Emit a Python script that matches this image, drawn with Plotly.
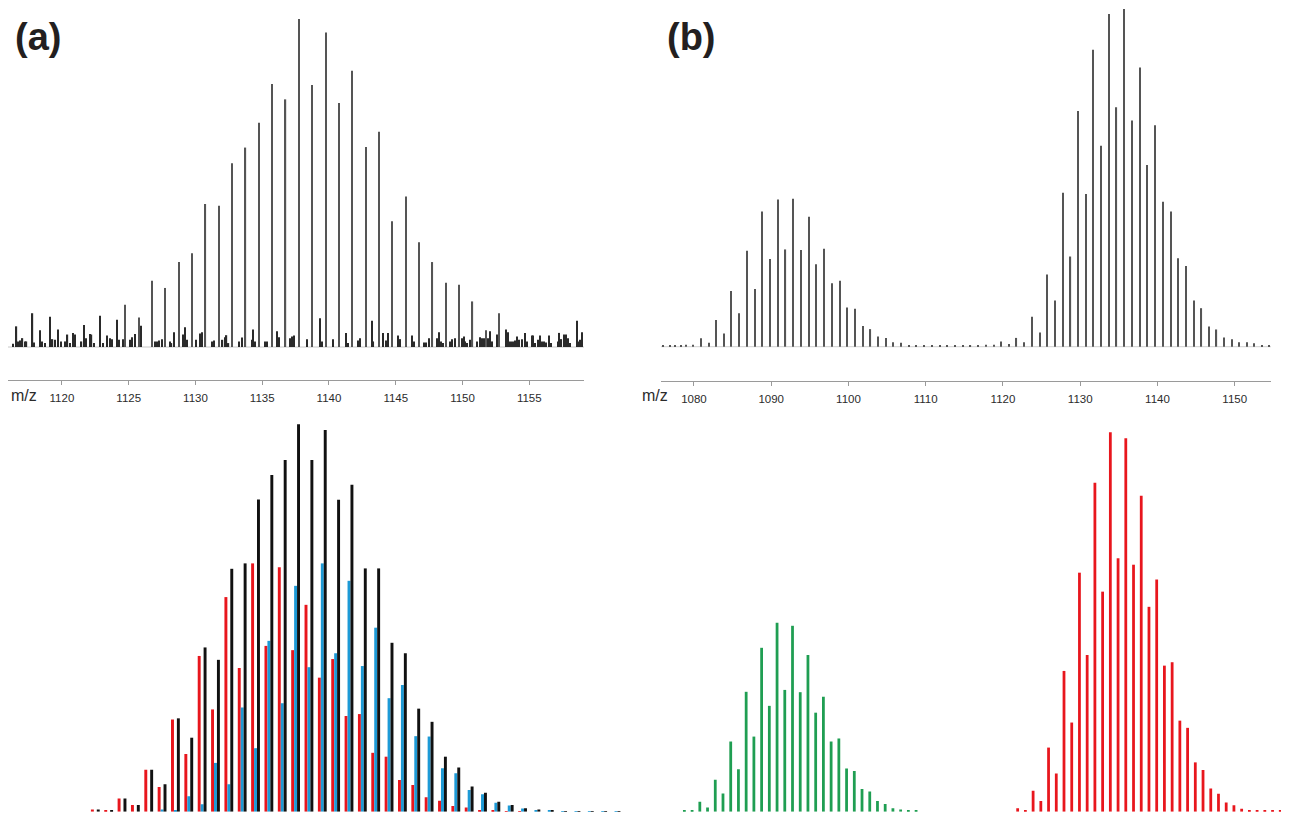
import plotly.graph_objects as go

# The page body adds an 8 px margin, so the figure is drawn 8 px smaller and
# reference pixel positions are shifted by that amount.
OFF = 8
W, H = 1289 - OFF, 815 - OFF

# ---------------- Panel (a), top: measured spectrum ----------------
a_peak_mz = [1124.75, 1125.75, 1126.75, 1127.75, 1128.75, 1129.75, 1130.75, 1131.75,
             1132.75, 1133.75, 1134.75, 1135.75, 1136.75, 1137.75, 1138.75, 1139.75,
             1140.75, 1141.75, 1142.75, 1143.75, 1144.75, 1145.75, 1146.75, 1147.75,
             1148.75, 1149.75, 1150.75, 1151.75, 1152.75]
a_peak_int = [12.9, 9.0, 20.2, 18.0, 25.9, 28.6, 43.6, 43.1,
              56.0, 60.8, 68.4, 80.2, 75.5, 100.0, 79.9, 95.9,
              74.4, 84.2, 61.0, 65.6, 38.3, 45.9, 31.9, 25.9,
              19.6, 19.0, 13.9, 5.1, 10.3]

a_noise_mz = [1115.90, 1116.35, 1116.60, 1116.73, 1116.90, 1117.05, 1117.23, 1117.35, 1117.80,
              1117.93, 1118.35, 1118.48, 1118.73, 1119.10, 1119.30, 1119.48, 1119.73, 1119.90,
              1120.27, 1120.42, 1120.60, 1120.80, 1120.97, 1121.47, 1121.65, 1121.80, 1122.10,
              1122.22, 1122.40, 1122.85, 1123.05, 1123.40, 1123.60, 1123.77, 1124.14, 1124.29,
              1124.59, 1125.09, 1125.27, 1125.47, 1125.94, 1126.99, 1127.14, 1127.29, 1127.47,
              1128.09, 1128.21, 1128.39, 1129.04, 1129.21, 1129.34, 1130.04, 1130.34, 1130.46,
              1131.21, 1131.39, 1132.03, 1132.21, 1132.33, 1132.48, 1133.28, 1133.46, 1134.21,
              1134.33, 1134.46, 1135.21, 1135.34, 1136.13, 1136.28, 1137.08, 1137.23, 1137.38,
              1138.33, 1139.33, 1139.45, 1140.28, 1141.25, 1141.40, 1142.20, 1142.33, 1143.20,
              1143.33, 1144.07, 1144.25, 1144.45, 1145.20, 1145.35, 1146.20, 1146.35, 1147.12,
              1147.27, 1147.49, 1148.07, 1148.27, 1148.39, 1148.52, 1149.07, 1149.24, 1149.42,
              1149.94, 1150.09, 1150.22, 1150.34, 1150.57, 1151.06, 1151.29, 1151.49, 1151.59,
              1151.94, 1152.09, 1152.24, 1152.56, 1153.24, 1153.39, 1153.51, 1153.64, 1153.76,
              1153.91, 1154.06, 1154.24, 1154.44, 1154.69, 1154.81, 1155.18, 1155.31, 1155.43,
              1155.68, 1155.81, 1155.96, 1156.11, 1156.26, 1156.46, 1156.61, 1157.13, 1157.26,
              1157.41, 1157.63, 1157.76, 1157.91, 1158.06, 1158.56, 1158.68, 1158.83, 1158.98]
a_noise_int = [6.8, 1.0, 6.3, 1.7, 2.0, 2.7, 1.7, 1.7, 10.3,
               1.4, 5.1, 1.7, 1.2, 9.2, 2.4, 2.2, 5.3, 1.7,
               1.7, 3.8, 1.2, 4.3, 3.8, 1.7, 6.7, 2.7, 4.0,
               3.8, 1.2, 9.5, 1.2, 3.5, 2.7, 2.4, 8.3, 2.2,
               2.4, 2.2, 3.0, 4.0, 6.5, 1.7, 1.7, 2.0, 2.4,
               1.7, 1.2, 4.5, 3.8, 6.0, 2.2, 2.2, 4.1, 4.5,
               1.7, 2.0, 2.2, 3.0, 3.6, 1.2, 1.7, 2.9, 2.2,
               5.3, 1.7, 1.7, 1.7, 4.8, 3.0, 2.7, 3.2, 3.5,
               2.4, 8.8, 1.7, 2.4, 4.3, 1.2, 2.0, 2.7, 8.0,
               1.7, 4.3, 2.0, 4.3, 3.5, 2.4, 3.5, 1.7, 1.4,
               1.4, 2.7, 2.7, 4.5, 1.7, 1.2, 1.7, 2.4, 2.7,
               2.7, 3.2, 1.7, 1.2, 2.2, 1.7, 3.0, 2.7, 2.7,
               2.7, 4.8, 1.7, 3.8, 5.3, 4.5, 1.7, 1.7, 1.7,
               2.0, 3.2, 2.2, 2.4, 4.3, 1.7, 3.5, 3.5, 1.2,
               2.2, 3.5, 1.7, 1.7, 1.4, 3.5, 1.2, 1.7, 4.3,
               2.4, 3.8, 3.8, 2.7, 1.2, 8.0, 1.7, 2.2, 4.5]

a_ticks = [1120, 1125, 1130, 1135, 1140, 1145, 1150, 1155]

# ---------------- Panel (a), bottom: fitted contributions ----------------
a_fit_mz = [1122.72, 1123.72, 1124.72, 1125.72, 1126.72, 1127.72, 1128.72, 1129.72,
            1130.72, 1131.72, 1132.72, 1133.72, 1134.72, 1135.72, 1136.72, 1137.72,
            1138.72, 1139.72, 1140.72, 1141.72, 1142.72, 1143.72, 1144.72, 1145.72,
            1146.72, 1147.72, 1148.72, 1149.72, 1150.72, 1151.72, 1152.72, 1153.72,
            1154.72, 1155.72, 1156.72, 1157.72, 1158.72, 1159.72, 1160.72, 1161.72]
a_fit_red = [0.6, 0.2, 3.4, 1.7, 10.8, 6.4, 23.8, 14.9,
             40.2, 26.4, 55.4, 37.1, 64.1, 42.8, 63.1, 41.7,
             53.4, 34.6, 39.4, 24.7, 25.2, 15.2, 14.2, 8.2,
             6.9, 3.7, 2.8, 1.5, 1.1, 0.4, 0.2, 0.1,
             0.05, 0.0, 0.0, 0.0, 0.0, 0.0, 0.0, 0.0]
a_fit_blue = [0.0, 0.0, 0.0, 0.0, 0.0, 0.6, 0.2, 4.0,
              1.9, 12.6, 7.1, 26.9, 16.4, 44.1, 28.0, 58.3,
              37.3, 64.1, 40.9, 59.6, 37.6, 47.5, 29.3, 32.7,
              19.5, 19.4, 11.2, 9.9, 5.6, 4.5, 2.3, 1.6,
              0.8, 0.4, 0.2, 0.15, 0.15, 0.15, 0.15, 0.15]
a_fit_black = [0.6, 0.2, 3.4, 1.7, 10.8, 7.1, 24.1, 19.1,
               42.4, 39.2, 62.7, 64.1, 80.6, 86.9, 90.8, 100.0,
               90.8, 98.5, 80.5, 84.4, 62.8, 62.8, 43.6, 40.9,
               26.6, 23.2, 14.2, 11.4, 6.5, 4.9, 2.6, 1.7,
               0.9, 0.6, 0.3, 0.15, 0.15, 0.15, 0.15, 0.15]

# ---------------- Panel (b), top: measured spectrum ----------------
b_mz = [1076.0, 1076.9, 1077.5, 1078.3, 1079.0, 1079.9,
        1080.9, 1081.9, 1082.9, 1083.85, 1084.85, 1085.85, 1086.85, 1087.85, 1088.85, 1089.85,
        1090.85, 1091.85, 1092.85, 1093.85, 1094.85, 1095.85, 1096.85, 1097.85, 1098.85, 1099.85,
        1100.85, 1101.85, 1102.85, 1103.85, 1104.85, 1105.8, 1106.8, 1107.8, 1108.8, 1109.8,
        1110.8, 1111.8, 1112.8, 1113.8, 1114.8, 1115.8, 1116.8, 1117.8, 1118.8, 1119.75,
        1120.75, 1121.75, 1122.75, 1123.75, 1124.75, 1125.75, 1126.75, 1127.75, 1128.75, 1129.75,
        1130.7, 1131.7, 1132.7, 1133.7, 1134.7, 1135.7, 1136.7, 1137.7, 1138.7, 1139.7,
        1140.7, 1141.7, 1142.7, 1143.7, 1144.7, 1145.7, 1146.65, 1147.65, 1148.6, 1149.6,
        1150.6, 1151.6, 1152.5, 1153.5, 1154.5]
b_int = [0.4, 0.4, 0.4, 0.5, 0.6, 0.6,
         2.5, 1.2, 7.9, 3.9, 16.5, 9.9, 28.4, 17.1, 40.0, 26.0,
         43.6, 28.8, 43.8, 28.6, 38.5, 24.4, 29.0, 18.8, 19.5, 11.6,
         11.2, 6.1, 5.2, 3.0, 2.6, 1.3, 1.2, 0.5, 0.5, 0.5,
         0.5, 0.5, 0.5, 0.5, 0.5, 0.5, 0.5, 0.6, 0.6, 1.5,
         0.8, 2.6, 1.3, 8.9, 4.2, 21.4, 13.7, 45.6, 26.7, 69.8,
         45.2, 87.9, 59.5, 98.5, 70.9, 100.0, 67.0, 82.7, 53.8, 65.6,
         42.9, 40.0, 26.2, 23.9, 13.7, 11.4, 6.0, 5.1, 2.7, 2.2,
         1.3, 1.3, 1.0, 0.5, 0.5]

b_ticks = [1080, 1090, 1100, 1110, 1120, 1130, 1140, 1150]

# ---------------- Panel (b), bottom: simulated envelopes ----------------
b_green_mz = [1078.75, 1079.75, 1080.75, 1081.75, 1082.75, 1083.75, 1084.75, 1085.75,
              1086.75, 1087.75, 1088.75, 1089.75, 1090.75, 1091.75, 1092.75, 1093.75,
              1094.75, 1095.75, 1096.75, 1097.75, 1098.75, 1099.75, 1100.75, 1101.75,
              1102.75, 1103.75, 1104.75, 1105.75, 1106.75, 1107.75, 1108.75]
b_green_int = [0.2, 0.2, 2.6, 1.1, 8.4, 4.8, 18.5, 11.2,
               31.6, 19.8, 43.2, 27.9, 49.8, 32.1, 49.0, 31.5,
               41.3, 26.1, 30.3, 18.5, 19.3, 11.4, 10.7, 6.0,
               5.3, 2.8, 2.0, 0.9, 0.6, 0.3, 0.3]
b_red_mz = [1121.9, 1122.9, 1123.9, 1124.9, 1125.9, 1126.9, 1127.9, 1128.9,
            1129.9, 1130.9, 1131.9, 1132.9, 1133.9, 1134.9, 1135.9, 1136.9,
            1137.9, 1138.9, 1139.9, 1140.9, 1141.9, 1142.9, 1143.9, 1144.9,
            1145.9, 1146.9, 1147.9, 1148.9, 1149.9, 1150.9, 1151.9, 1152.9,
            1153.9, 1154.9, 1155.9, 1156.9]
b_red_int = [0.9, 0.3, 5.5, 2.8, 16.9, 10.1, 37.1, 23.5,
             63.0, 41.3, 86.7, 58.0, 100.0, 66.8, 98.4, 65.1,
             83.3, 54.0, 61.2, 38.5, 39.4, 24.0, 22.1, 13.0,
             11.0, 6.1, 4.7, 2.4, 1.7, 0.8, 0.4, 0.2,
             0.2, 0.2, 0.2, 0.2]

# ---------------- Figure ----------------
def py(px):
    return 1 - (px - OFF) / H

def pxx(px):
    return (px - OFF) / W

fig = go.Figure()

# top (a)
fig.add_trace(go.Bar(x=a_noise_mz, y=a_noise_int, width=0.09, marker=dict(color="#2a2a2a", line_width=0),
                     xaxis="x", yaxis="y", showlegend=False))
fig.add_trace(go.Bar(x=a_peak_mz, y=a_peak_int, width=0.09, marker=dict(color="#555555", line_width=0),
                     xaxis="x", yaxis="y", showlegend=False))
# top (b)
fig.add_trace(go.Bar(x=b_mz, y=b_int, width=0.15, marker=dict(color="#555555", line_width=0),
                     xaxis="x2", yaxis="y2", showlegend=False))
# bottom (a)
bw = 0.22
fig.add_trace(go.Bar(x=a_fit_mz, y=a_fit_red, width=bw, offset=-2.5 * bw,
                     marker=dict(color="#e8161d", line_width=0), xaxis="x3", yaxis="y3", showlegend=False))
fig.add_trace(go.Bar(x=a_fit_mz, y=a_fit_blue, width=bw, offset=-1.5 * bw,
                     marker=dict(color="#1d9ad6", line_width=0), xaxis="x3", yaxis="y3", showlegend=False))
fig.add_trace(go.Bar(x=a_fit_mz, y=a_fit_black, width=bw, offset=-0.5 * bw,
                     marker=dict(color="#111111", line_width=0), xaxis="x3", yaxis="y3", showlegend=False))
# bottom (b)
fig.add_trace(go.Bar(x=b_green_mz, y=b_green_int, width=0.36,
                     marker=dict(color="#1f9e52", line_width=0), xaxis="x4", yaxis="y4", showlegend=False))
fig.add_trace(go.Bar(x=b_red_mz, y=b_red_int, width=0.36,
                     marker=dict(color="#e8161d", line_width=0), xaxis="x4", yaxis="y4", showlegend=False))

tickfont = dict(family="Liberation Sans, Arial", size=11.5, color="#2b2b2b")
top_x_common = dict(showline=True, linecolor="#9a9a9a", linewidth=1, ticks="outside", ticklen=4,
                    tickcolor="#9a9a9a", tickfont=tickfont, showgrid=False, zeroline=False,
                    tickmode="array", fixedrange=True, ticklabelstandoff=3)
hidden = dict(visible=False, showgrid=False, zeroline=False, fixedrange=True)

mz_font = dict(family="Liberation Sans, Arial", size=16, color="#2b2b2b")

fig.update_layout(
    width=W, height=H, margin=dict(l=0, r=0, t=0, b=0),
    paper_bgcolor="white", plot_bgcolor="rgba(0,0,0,0)",
    barmode="overlay", showlegend=False,
    xaxis=dict(domain=[pxx(8), pxx(584)], range=[1115.96, 1159.10], tickvals=a_ticks,
               anchor="y", **top_x_common),
    yaxis=dict(domain=[py(380), py(10)], range=[-10.06, 102.74], anchor="x", **hidden),
    xaxis2=dict(domain=[pxx(661), pxx(1271)], range=[1075.73, 1154.70], tickvals=b_ticks,
                anchor="y2", **top_x_common),
    yaxis2=dict(domain=[py(381), py(8)], range=[-10.16, 100.29], anchor="x2", **hidden),
    xaxis3=dict(domain=[pxx(8), pxx(645)], range=[1115.96, 1163.67], anchor="y3", **hidden),
    yaxis3=dict(domain=[py(811.7), py(415)], range=[0, 102.4], anchor="x3", **hidden),
    xaxis4=dict(domain=[pxx(650), pxx(1289)], range=[1074.30, 1157.03], anchor="y4", **hidden),
    yaxis4=dict(domain=[py(811.7), py(415)], range=[0, 104.56], anchor="x4", **hidden),
    shapes=[
        dict(type="line", xref="x domain", yref="y", x0=0, x1=1, y0=0, y1=0,
             line=dict(color="#c8c8c8", width=1), layer="below"),
        dict(type="line", xref="x2 domain", yref="y2", x0=0, x1=1, y0=0, y1=0,
             line=dict(color="#d0d0d0", width=1), layer="below"),
    ],
    annotations=[
        dict(text="<b>(a)</b>", x=pxx(13), y=py(37), xref="paper", yref="paper",
             xanchor="left", yanchor="middle", showarrow=False,
             font=dict(family="Liberation Sans, Arial", size=38, color="#231f20")),
        dict(text="<b>(b)</b>", x=pxx(665), y=py(37), xref="paper", yref="paper",
             xanchor="left", yanchor="middle", showarrow=False,
             font=dict(family="Liberation Sans, Arial", size=38, color="#231f20")),
        dict(text="m/z", x=pxx(8.5), y=py(395), xref="paper", yref="paper",
             xanchor="left", yanchor="middle", showarrow=False, font=mz_font),
        dict(text="m/z", x=pxx(640), y=py(396), xref="paper", yref="paper",
             xanchor="left", yanchor="middle", showarrow=False, font=mz_font),
    ],
)

fig.write_html("out.html")
